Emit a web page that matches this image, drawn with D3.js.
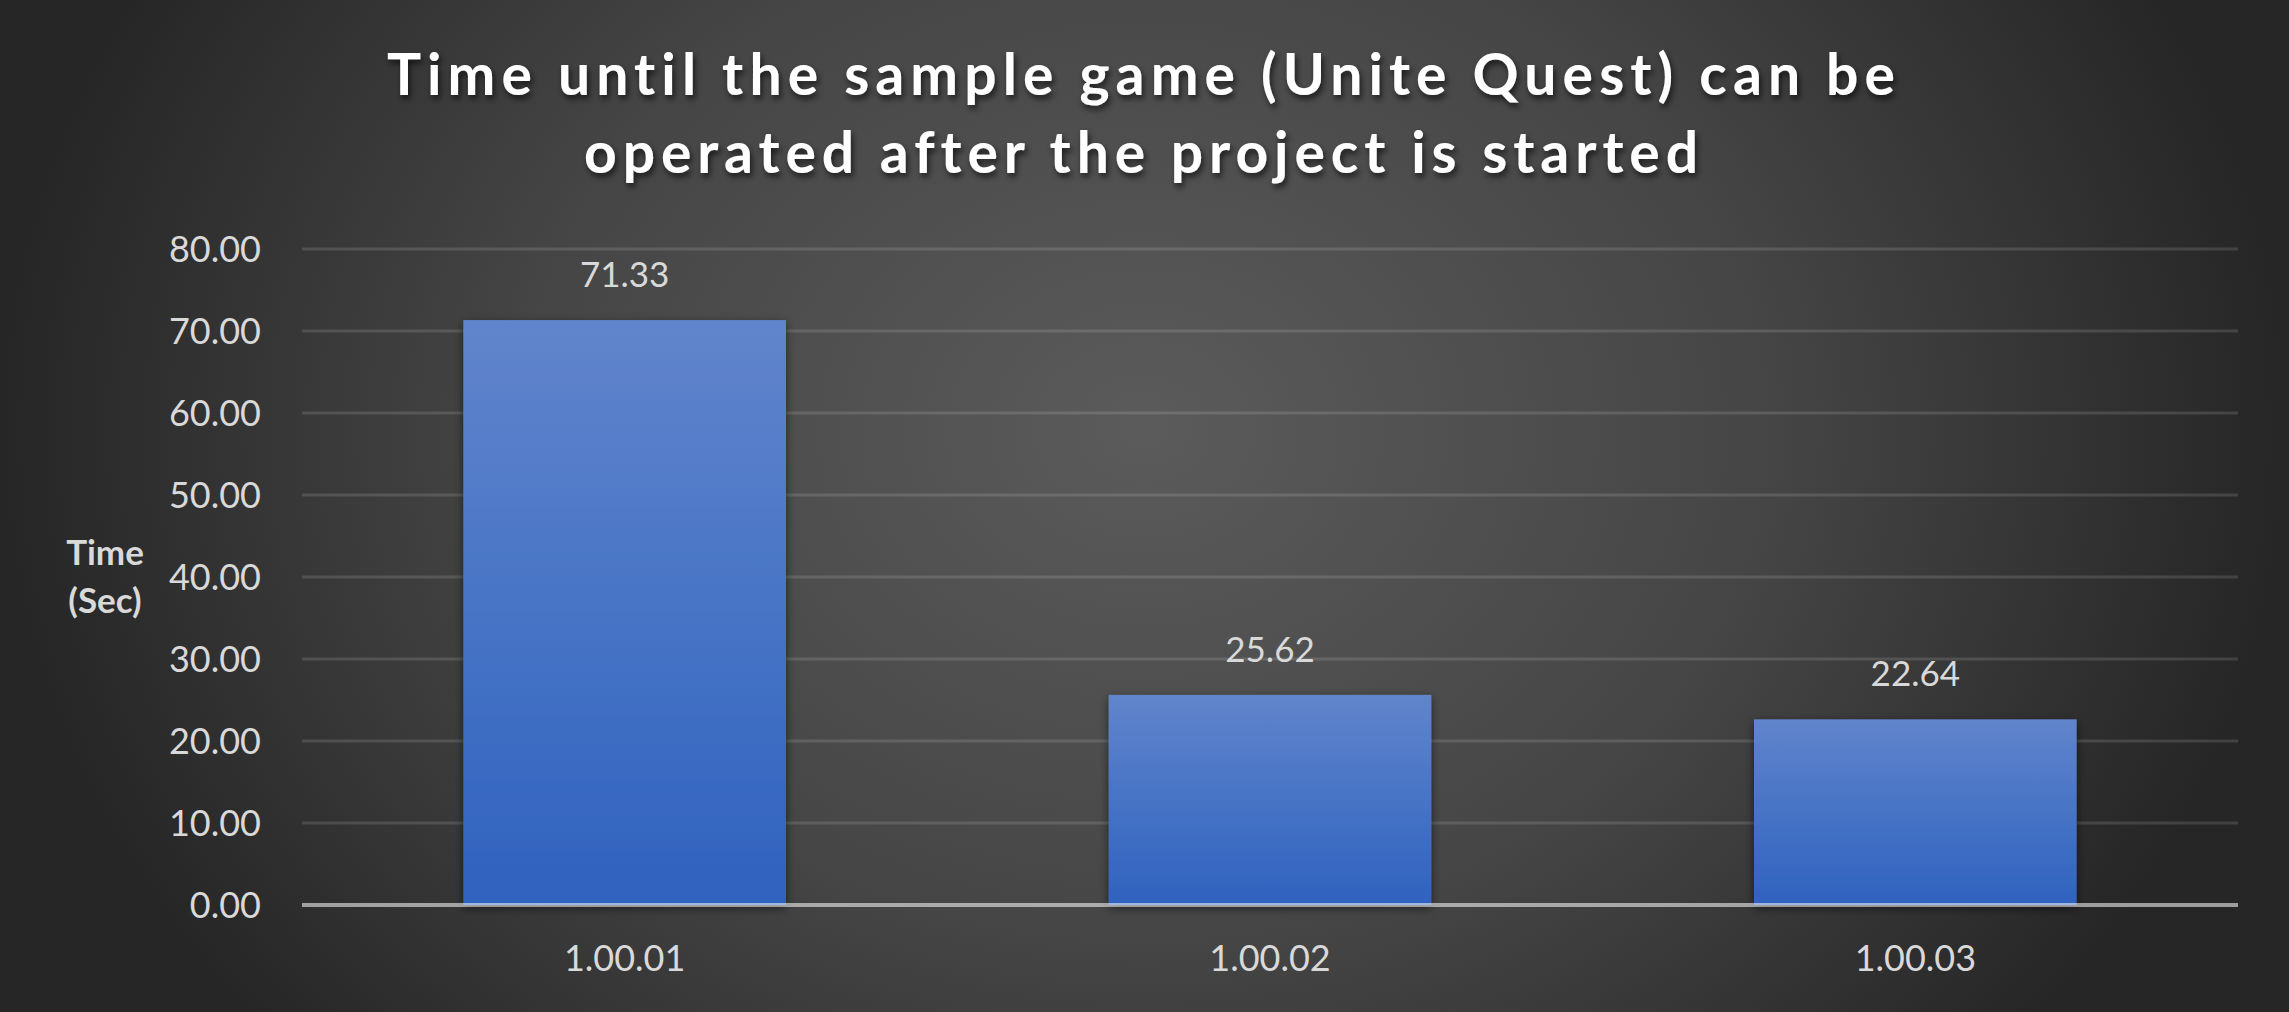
<!DOCTYPE html>
<html>
<head>
<meta charset="utf-8">
<script src="https://cdn.jsdelivr.net/npm/d3@7"></script>
<style>
  html, body { margin: 0; padding: 0; background: #262626; overflow: hidden; }
  svg { display: block; }
  text { font-variant-ligatures: none; font-feature-settings: "liga" 0, "clig" 0; }
</style>
</head>
<body>
<script>
// ---- data ----
const categories = ["1.00.01", "1.00.02", "1.00.03"];
const values = [71.33, 25.62, 22.64];
const yTicks = [0, 10, 20, 30, 40, 50, 60, 70, 80];
const titleLines = ["Time until the sample game (Unite Quest) can be", "operated after the project is started"];
const yAxisTitle = ["Time", "(Sec)"];

const W = 2289, H = 1012;
const margin = { left: 302, right: W - 2238, top: 249, bottom: H - 905 };

const svg = d3.select("body").append("svg").attr("width", W).attr("height", H);
const defs = svg.append("defs");

// background radial gradient
const bg = defs.append("radialGradient").attr("id", "bg")
  .attr("gradientUnits", "userSpaceOnUse")
  .attr("cx", 1144).attr("cy", 430).attr("r", 1144)
  .attr("gradientTransform", "translate(1144,430) scale(1,0.82) translate(-1144,-430)");
bg.append("stop").attr("offset", 0).attr("stop-color", "#5b5b5b");
bg.append("stop").attr("offset", 0.55).attr("stop-color", "#454545");
bg.append("stop").attr("offset", 1).attr("stop-color", "#262626");

const barGrad = defs.append("linearGradient").attr("id", "barGrad")
  .attr("x1", 0).attr("y1", 0).attr("x2", 0).attr("y2", 1);
barGrad.append("stop").attr("offset", 0).attr("stop-color", "#6085cc");
barGrad.append("stop").attr("offset", 1).attr("stop-color", "#2f62bf");

const barShadow = defs.append("filter").attr("id", "barShadow")
  .attr("x", "-10%").attr("y", "-10%").attr("width", "120%").attr("height", "120%");
barShadow.append("feDropShadow").attr("dx", 0).attr("dy", 3).attr("stdDeviation", 5)
  .attr("flood-color", "#000").attr("flood-opacity", 0.55);

const titleShadow = defs.append("filter").attr("id", "titleShadow")
  .attr("x", "-5%").attr("y", "-30%").attr("width", "110%").attr("height", "160%");
titleShadow.append("feDropShadow").attr("dx", 2).attr("dy", 4).attr("stdDeviation", 3)
  .attr("flood-color", "#000").attr("flood-opacity", 0.65);

svg.append("rect").attr("width", W).attr("height", H).attr("fill", "url(#bg)");

// scales
const x = d3.scaleBand().domain(categories)
  .range([margin.left, W - margin.right]).paddingInner(0.5).paddingOuter(0.25);
const y = d3.scaleLinear().domain([0, 80]).range([H - margin.bottom, margin.top]);

// gridlines
svg.append("g").selectAll("line").data(yTicks.filter(d => d > 0)).join("line")
  .attr("x1", margin.left).attr("x2", W - margin.right)
  .attr("y1", d => y(d)).attr("y2", d => y(d))
  .attr("stroke", "#ffffff").attr("stroke-opacity", 0.13).attr("stroke-width", 3);

// y axis tick labels
const yAxis = d3.axisLeft(y).tickValues(yTicks).tickFormat(d3.format(".2f")).tickSize(0).tickPadding(41);
const gy = svg.append("g").attr("transform", `translate(${margin.left},0)`).call(yAxis);
gy.select(".domain").remove();
gy.selectAll("text")
  .attr("fill", "#d9d9d9").attr("font-family", "Lato, 'Open Sans', sans-serif")
  .attr("font-size", 36).attr("dy", "0.35em");

// bars
svg.append("g").selectAll("rect").data(values).join("rect")
  .attr("x", (d, i) => x(categories[i]))
  .attr("width", x.bandwidth())
  .attr("y", d => y(d))
  .attr("height", d => y(0) - y(d))
  .attr("fill", "url(#barGrad)")
  .attr("filter", "url(#barShadow)");

// x axis baseline
svg.append("line")
  .attr("x1", margin.left).attr("x2", W - margin.right)
  .attr("y1", y(0)).attr("y2", y(0))
  .attr("stroke", "#ffffff").attr("stroke-opacity", 0.55).attr("stroke-width", 4);

// x axis labels
const xAxis = d3.axisBottom(x).tickSize(0).tickPadding(0);
const gx = svg.append("g").attr("transform", `translate(0,${y(0)})`).call(xAxis);
gx.select(".domain").remove();
gx.selectAll("text")
  .attr("fill", "#d9d9d9").attr("font-family", "Lato, 'Open Sans', sans-serif")
  .attr("font-size", 36).attr("y", 66).attr("dy", 0);

// data labels
svg.append("g").selectAll("text").data(values).join("text")
  .attr("x", (d, i) => x(categories[i]) + x.bandwidth() / 2)
  .attr("y", d => y(d) - 33)
  .attr("text-anchor", "middle")
  .attr("fill", "#d9d9d9").attr("font-family", "Lato, 'Open Sans', sans-serif")
  .attr("font-size", 35)
  .text(d => d3.format(".2f")(d));

// y axis title
const yt = svg.append("text")
  .attr("text-anchor", "middle").attr("fill", "#d9d9d9")
  .attr("font-family", "Lato, 'Open Sans', sans-serif").attr("font-weight", 700)
  .attr("font-size", 35);
yt.selectAll("tspan").data(yAxisTitle).join("tspan")
  .attr("x", 105).attr("y", (d, i) => 565 + i * 48).text(d => d);

// title
const titleWidths = [1508, 1114];
const tt = svg.append("g").attr("filter", "url(#titleShadow)");
tt.selectAll("text").data(titleLines).join("text")
  .attr("x", 1141).attr("y", (d, i) => 95 + i * 78)
  .attr("text-anchor", "middle")
  .attr("fill", "#ffffff")
  .attr("font-family", "Lato, 'Open Sans', sans-serif").attr("font-weight", 700)
  .attr("font-size", 57)
  .attr("textLength", (d, i) => titleWidths[i])
  .attr("lengthAdjust", "spacing")
  .text(d => d);
</script>
</body>
</html>
